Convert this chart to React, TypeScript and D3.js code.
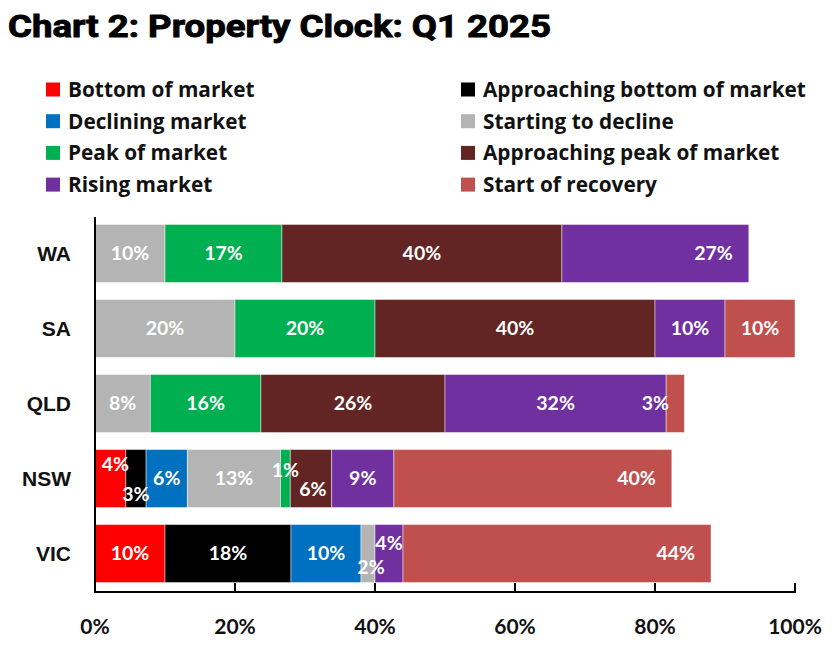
import * as d3 from "d3";
import { useEffect } from "react";

const regions = ["WA", "SA", "QLD", "NSW", "VIC"];

const stages = [
  "Bottom of market",
  "Approaching bottom of market",
  "Declining market",
  "Starting to decline",
  "Peak of market",
  "Approaching peak of market",
  "Rising market",
  "Start of recovery",
];

const stageColors = ["#ff0000", "#000000", "#0070c0", "#b4b4b4", "#00b050", "#632523", "#7030a0", "#c0504d"];

// shares per stage, same order as stages
const waValues = [0, 0, 0, 10, 16.7, 40, 26.7, 0];
const saValues = [0, 0, 0, 20, 20, 40, 10, 10];
const qldValues = [0, 0, 0, 7.9, 15.8, 26.3, 31.6, 2.6];
const nswValues = [4.4, 2.9, 5.9, 13.3, 1.4, 5.9, 8.9, 39.7];
const vicValues = [10, 18, 10, 2, 0, 0, 4, 44];

const regionValues = [waValues, saValues, qldValues, nswValues, vicValues];

const xTicks = [0, 20, 40, 60, 80, 100];

// label nudges for crowded / inside-end labels
const labelNudge: Record<string, { dx?: number; dy?: number; end?: boolean }> = {
  "WA|Rising market": { end: true },
  "QLD|Start of recovery": { dx: -20 },
  "NSW|Bottom of market": { dx: 5, dy: -14 },
  "NSW|Approaching bottom of market": { dy: 16 },
  "NSW|Peak of market": { dy: -8 },
  "NSW|Approaching peak of market": { dx: 2, dy: 11 },
  "NSW|Start of recovery": { end: true },
  "VIC|Starting to decline": { dx: 3, dy: 14 },
  "VIC|Rising market": { dy: -10 },
  "VIC|Start of recovery": { end: true },
};

const FONT = "Lato, 'Open Sans', sans-serif";

export default function App() {
  useEffect(() => {
    document.body.style.margin = "0";
  }, []);

  const W = 832;
  const H = 648;

  const x = d3.scaleLinear().domain([0, 100]).range([95, 795]);
  const y = d3.scaleBand().domain(regions).range([216, 591]).paddingInner(0.227).paddingOuter(0.113);
  const color = d3.scaleOrdinal<string, string>().domain(stages).range(stageColors);

  const rows = regions.map((r, i) => {
    const row: Record<string, any> = { region: r };
    stages.forEach((s, j) => (row[s] = regionValues[i][j]));
    return row;
  });
  const series = d3.stack().keys(stages)(rows as any);

  const axisY = 592;

  return (
    <svg width={W} height={H} style={{ display: "block", background: "#fff" }} fontFamily={FONT}>
      <text
        x={8}
        y={37}
        fontFamily="Roboto, sans-serif"
        fontWeight={700}
        fontSize={31}
        fill="#000"
        stroke="#000"
        strokeWidth={0.9}
        textLength={543}
        lengthAdjust="spacingAndGlyphs"
      >
        Chart 2: Property Clock: Q1 2025
      </text>

      {/* legend */}
      {stages.map((s, i) => {
        const col = i % 2;
        const row = Math.floor(i / 2);
        const lx = col === 0 ? 46 : 461;
        const cy = 89.5 + row * 31.7;
        return (
          <g key={s}>
            <rect x={lx} y={cy - 7} width={14} height={14} fill={color(s)} />
            <text x={lx + 22} y={cy} dy="0.36em" fontFamily="'Open Sans', sans-serif" fontSize={20.8} fontWeight={700} fill="#111">
              {s}
            </text>
          </g>
        );
      })}

      {/* bars */}
      {series.map(ser => (
        <g key={ser.key} fill={color(ser.key)}>
          {ser.map((d, i) =>
            d[1] - d[0] > 0 ? (
              <rect
                key={regions[i]}
                x={x(d[0])}
                y={y(regions[i])!}
                width={x(d[1]) - x(d[0])}
                height={y.bandwidth()}
                stroke="#ffffff"
                strokeOpacity={0.45}
                strokeWidth={1}
              />
            ) : null
          )}
        </g>
      ))}

      {/* data labels */}
      {series.map(ser =>
        ser.map((d, i) => {
          const v = d[1] - d[0];
          if (v <= 0) return null;
          const n = labelNudge[`${regions[i]}|${ser.key}`] || {};
          const cx = n.end ? x(d[1]) - 16 : (x(d[0]) + x(d[1])) / 2 + (n.dx || 0);
          const cy = y(regions[i])! + y.bandwidth() / 2 + (n.dy || 0);
          return (
            <text
              key={ser.key + regions[i]}
              x={cx}
              y={cy}
              dy="0.35em"
              textAnchor={n.end ? "end" : "middle"}
              fontSize={19.5}
              fontWeight={700}
              fill="#fff"
            >
              {`${Math.round(v)}%`}
            </text>
          );
        })
      )}

      {/* category labels */}
      {regions.map(r => (
        <text
          key={r}
          x={71}
          y={y(r)! + y.bandwidth() / 2}
          dy="0.36em"
          textAnchor="end"
          fontFamily="'Liberation Sans', Arial, sans-serif"
          fontSize={21}
          fontWeight={700}
          fill="#111"
        >
          {r}
        </text>
      ))}

      {/* axes */}
      <line x1={95} x2={95} y1={217} y2={axisY + 1} stroke="#000" strokeWidth={2} />
      <line x1={94} x2={x(100) + 1} y1={axisY} y2={axisY} stroke="#000" strokeWidth={2} />
      {xTicks.map(t => (
        <g key={t}>
          <line x1={x(t)} x2={x(t)} y1={axisY} y2={axisY - 9} stroke="#000" strokeWidth={2} />
          <text x={x(t)} y={627} dy="0.35em" textAnchor="middle" fontSize={21} fontWeight={700} fill="#111">
            {`${t}%`}
          </text>
        </g>
      ))}
    </svg>
  );
}
